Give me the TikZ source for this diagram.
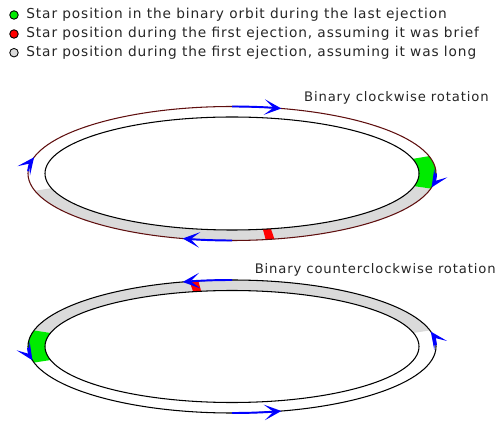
\documentclass[tikz,border=0pt]{standalone}
\usepackage{fontspec}
\setmainfont[LetterSpace=6.5]{DejaVu Sans}
\usepackage{tikz}
\usetikzlibrary{arrows.meta,calc}
\usepackage{xcolor}
\definecolor{bandgray}{RGB}{218,218,218}
\definecolor{bandgreen}{RGB}{0,235,0}
\definecolor{bandred}{RGB}{255,0,0}
\definecolor{orbitbrown}{RGB}{95,15,15}
\tikzset{
  legdot/.style={circle, draw=black, line width=0.5pt, minimum size=1.7mm, inner sep=0pt},
  legtext/.style={anchor=base west, inner sep=0pt, font=\fontsize{7.8}{9}\selectfont, text=black!85},
  rotlabel/.style={anchor=base east, inner sep=0pt, font=\fontsize{7.5}{9}\selectfont, text=black!85},
  ringline/.style={line width=0.6pt},
  orbitarr/.style={draw=blue, line width=1.1pt, -{Stealth[length=3.4mm,width=3.1mm,inset=1.8mm]}},
}

\begin{document}
\begin{tikzpicture}[x=0.02cm,y=-0.02cm]
\useasboundingbox (0,0) rectangle (499,421);
% legend
\node[legdot, fill=bandgreen] (dotlast) at (14,15) {};
\node[legdot, fill=bandred] (dotbrief) at (14,34) {};
\node[legdot, fill=bandgray] (dotlong) at (14,52.7) {};
\node[legtext] (txtlast) at (26,19) {Star position in the binary orbit during the last ejection};
\node[legtext] (txtbrief) at (26,38) {Star position during the first ejection, assuming it was brief};
\node[legtext] (txtlong) at (26,57) {Star position during the first ejection, assuming it was long};

% clockwise orbit
\coordinate (cw) at (232,173.5);
\fill[bandgray] ($(cw)+(13:204 and 67)$) arc[start angle=13, end angle=165, x radius=204, y radius=67]
  -- ($(cw)+(165:187 and 56.5)$) arc[start angle=165, end angle=13, x radius=187, y radius=56.5] -- cycle;
\fill[bandgreen] ($(cw)+(-15:204 and 67)$) arc[start angle=-15, end angle=13, x radius=204, y radius=67]
  -- ($(cw)+(13:187 and 56.5)$) arc[start angle=13, end angle=-15, x radius=187, y radius=56.5] -- cycle;
\fill[bandred] ($(cw)+(78:204 and 67)$) arc[start angle=78, end angle=80.5, x radius=204, y radius=67]
  -- ($(cw)+(80.5:187 and 56.5)$) arc[start angle=80.5, end angle=78, x radius=187, y radius=56.5] -- cycle;
\draw[ringline, draw=orbitbrown] (cw) ellipse[x radius=204, y radius=67];
\draw[ringline] (cw) ellipse[x radius=187, y radius=56.5];
\draw[orbitarr] ($(cw)+(-90:204 and 67)$) arc[start angle=-90, end angle=-76, x radius=204, y radius=67];
\draw[orbitarr] ($(cw)+(90:204 and 67)$) arc[start angle=90, end angle=104, x radius=204, y radius=67];
\draw[orbitarr] ($(cw)+(182:204 and 67)$) arc[start angle=182, end angle=194, x radius=204, y radius=67];
\draw[orbitarr] ($(cw)+(0:204 and 67)$) arc[start angle=0, end angle=12, x radius=204, y radius=67];
\node[rotlabel] (lblcw) at (489,101.5) {Binary clockwise rotation};

% counterclockwise orbit
\coordinate (ccw) at (232,346.5);
\fill[bandgray] ($(ccw)+(194:204 and 66.5)$) arc[start angle=194, end angle=346, x radius=204, y radius=66.5]
  -- ($(ccw)+(346:187 and 56)$) arc[start angle=346, end angle=194, x radius=187, y radius=56] -- cycle;
\fill[bandgreen] ($(ccw)+(166:204 and 66.5)$) arc[start angle=166, end angle=194, x radius=204, y radius=66.5]
  -- ($(ccw)+(194:187 and 56)$) arc[start angle=194, end angle=166, x radius=187, y radius=56] -- cycle;
\fill[bandred] ($(ccw)+(258:204 and 66.5)$) arc[start angle=258, end angle=260.5, x radius=204, y radius=66.5]
  -- ($(ccw)+(260.5:187 and 56)$) arc[start angle=260.5, end angle=258, x radius=187, y radius=56] -- cycle;
\draw[ringline] (ccw) ellipse[x radius=204, y radius=66.5];
\draw[ringline] (ccw) ellipse[x radius=187, y radius=56];
\draw[orbitarr] ($(ccw)+(270:204 and 66.5)$) arc[start angle=270, end angle=256, x radius=204, y radius=66.5];
\draw[orbitarr] ($(ccw)+(90:204 and 66.5)$) arc[start angle=90, end angle=76, x radius=204, y radius=66.5];
\draw[orbitarr] ($(ccw)+(179:204 and 66.5)$) arc[start angle=179, end angle=168, x radius=204, y radius=66.5];
\draw[orbitarr] ($(ccw)+(359:204 and 66.5)$) arc[start angle=359, end angle=347, x radius=204, y radius=66.5];
\node[rotlabel] (lblccw) at (496,274) {Binary counterclockwise rotation};
\end{tikzpicture}
\end{document}
